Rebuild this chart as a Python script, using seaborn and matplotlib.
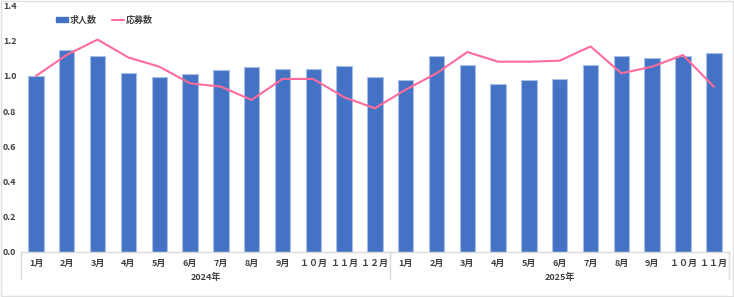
import matplotlib
matplotlib.use("Agg")
import matplotlib.pyplot as plt
import seaborn as sns
import pandas as pd
import numpy as np
from matplotlib.patches import Patch
from matplotlib.lines import Line2D

sns.set_style("white")
plt.rcParams['font.family'] = ['Noto Sans CJK JP', 'DejaVu Sans']

months = ["1月", "2月", "3月", "4月", "5月", "6月", "7月", "8月", "9月", "１０月", "１１月", "１２月",
          "1月", "2月", "3月", "4月", "5月", "6月", "7月", "8月", "9月", "１０月", "１１月"]
years = ["2024年", "2025年"]
year_sizes = [12, 11]
kyujin = [1.00, 1.147, 1.111, 1.019, 0.996, 1.013, 1.034, 1.053, 1.040, 1.040, 1.057, 0.994,
          0.977, 1.111, 1.064, 0.952, 0.979, 0.983, 1.060, 1.111, 1.102, 1.113, 1.130]
oubo = [1.00, 1.12, 1.207, 1.105, 1.053, 0.958, 0.939, 0.864, 0.983, 0.983, 0.879, 0.816,
        0.922, 1.015, 1.136, 1.081, 1.081, 1.087, 1.168, 1.015, 1.053, 1.119, 0.939]

bar_color = "#4472C4"
line_color = "#FF6B9A"

df = pd.DataFrame({"key": [f"{i:02d}" for i in range(len(months))],
                   "pos": np.arange(len(months)),
                   "kyujin": kyujin, "oubo": oubo})

fig = plt.figure(figsize=(7.34, 2.97), dpi=100)
ax = fig.add_axes([0.028, 0.1525, 0.9655, 0.8285])

sns.barplot(data=df, x="key", y="kyujin", color=bar_color, width=0.5,
            edgecolor="#A9BFE6", linewidth=0.8, saturation=1, ax=ax)
sns.lineplot(data=df, x="pos", y="oubo", color=line_color, linewidth=1.5, ax=ax)

ax.set_xlim(-0.5, len(months) - 0.5)
ax.set_ylim(0, 1.4)
ax.set_yticks(np.arange(0, 1.41, 0.2))
ax.set_yticklabels([f"{v:.1f}" for v in np.arange(0, 1.41, 0.2)], fontsize=6.5,
                   color="#404040", fontweight="bold")
ax.set_xticks(range(len(months)))
ax.set_xticklabels(months, fontsize=6.5, color="#404040", fontweight="bold")
ax.tick_params(axis="both", length=0, pad=5)
ax.tick_params(axis="y", pad=3)
ax.set_xlabel("")
ax.set_ylabel("")
for s in ["top", "right", "left"]:
    ax.spines[s].set_visible(False)
ax.spines["bottom"].set_color("#D9D9D9")
ax.spines["bottom"].set_linewidth(1.0)

# group separators and year labels
trans = ax.get_xaxis_transform()
bounds = [-0.5]
for n in year_sizes:
    bounds.append(bounds[-1] + n)
for b in bounds:
    ax.plot([b, b], [0, -0.11], transform=trans, color="#D9D9D9", linewidth=1.0, clip_on=False)
for i, y in enumerate(years):
    c = (bounds[i] + bounds[i + 1]) / 2
    ax.text(c, -0.104, y, transform=trans, ha="center", va="center", fontsize=6.5,
            color="#404040", fontweight="bold")

handles = [Patch(facecolor=bar_color, edgecolor=bar_color, label="求人数"),
           Line2D([0], [0], color=line_color, linewidth=1.5, label="応募数")]
leg = fig.legend(handles=handles, loc="center left", bbox_to_anchor=(0.065, 0.932), ncol=2,
                 frameon=False, fontsize=6.5, handlelength=1.4, handleheight=0.5,
                 handletextpad=0.2, columnspacing=1.6)
for t in leg.get_texts():
    t.set_color("#404040")
    t.set_fontweight("bold")

# chart border
fig.patches.append(plt.Rectangle((0.001, 0.002), 0.997, 0.996, transform=fig.transFigure,
                                 fill=False, edgecolor="#E0E0E0", linewidth=1.0))

fig.savefig("out.png", dpi=100)
